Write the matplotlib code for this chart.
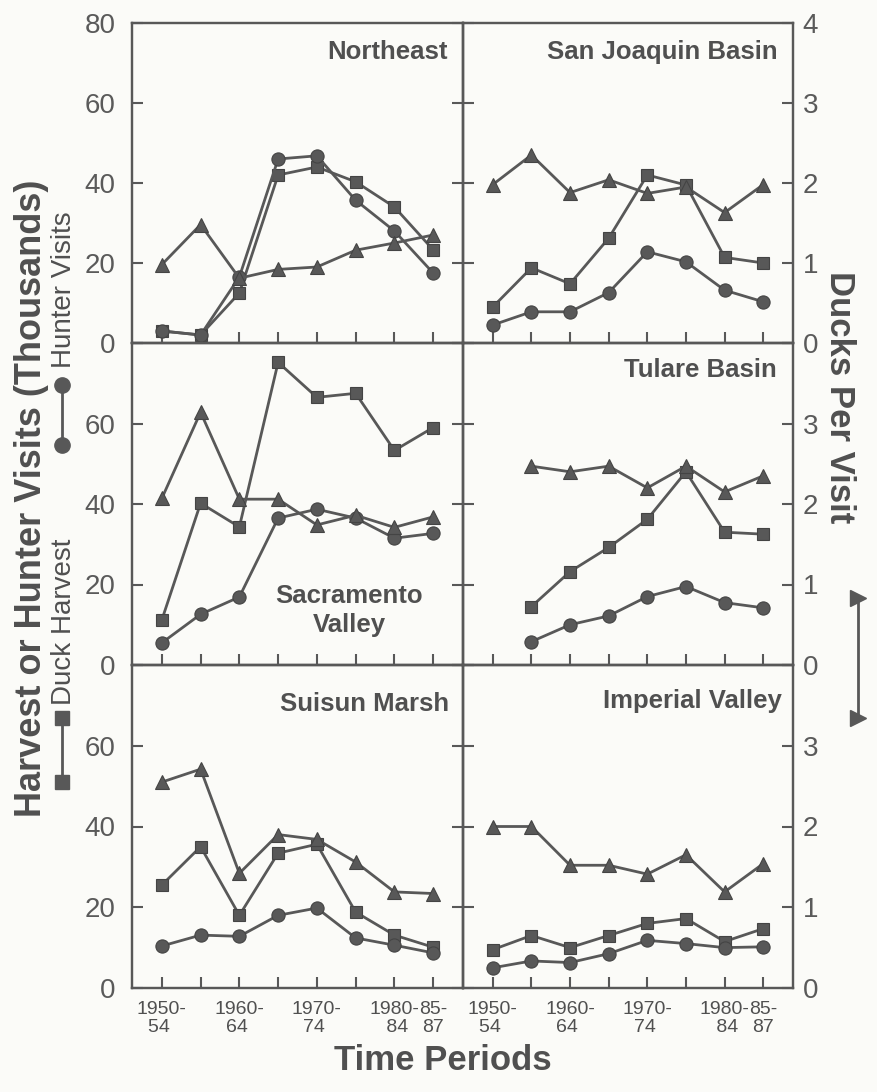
import numpy as np
import matplotlib
matplotlib.use("Agg")
import matplotlib.pyplot as plt
from matplotlib.lines import Line2D

plt.rcParams["font.family"] = ["Liberation Sans", "DejaVu Sans"]

INK = "#585858"
TXT = "#505050"
BG = "#fbfbf8"

periods = ["1950-54", "1955-59", "1960-64", "1965-69",
           "1970-74", "1975-79", "1980-84", "1985-87"]
tick_pos = [0, 2, 4, 6, 7]
tick_lbl = ["1950-\n54 ", "1960-\n64 ", "1970-\n74 ", "1980-\n 84", "85-\n87"]

# harvest & hunter visits in thousands, ducks per visit
ne_harvest = [3, 2, 12.5, 42, 44, 40.3, 34, 23.3]
ne_visits = [3, 2, 16.5, 46, 46.8, 35.7, 28, 17.5]
ne_dpv = [0.98, 1.48, 0.81, 0.92, 0.95, 1.16, 1.25, 1.35]

sj_harvest = [9, 18.8, 14.8, 26.2, 42, 39.5, 21.4, 20]
sj_visits = [4.5, 7.8, 7.8, 12.6, 22.8, 20.3, 13.2, 10.3]
sj_dpv = [1.98, 2.35, 1.88, 2.04, 1.87, 1.95, 1.63, 1.98]

sv_harvest = [11.2, 40.2, 34.3, 75.2, 66.5, 67.5, 53.3, 59]
sv_visits = [5.5, 12.6, 16.9, 36.5, 38.7, 36.5, 31.5, 32.7]
sv_dpv = [2.07, 3.14, 2.06, 2.06, 1.74, 1.86, 1.71, 1.84]

tb_harvest = [np.nan, 14.5, 23.2, 29.2, 36.2, 48, 33, 32.5]
tb_visits = [np.nan, 5.8, 10, 12.2, 17, 19.5, 15.5, 14.2]
tb_dpv = [np.nan, 2.47, 2.4, 2.47, 2.2, 2.47, 2.15, 2.35]

sm_harvest = [25.5, 35, 18, 33.4, 35.6, 18.8, 13.1, 10.1]
sm_visits = [10.4, 13.1, 12.8, 18, 19.8, 12.4, 10.6, 8.7]
sm_dpv = [2.55, 2.71, 1.42, 1.9, 1.84, 1.56, 1.19, 1.17]

iv_harvest = [9.5, 13, 10, 13, 16, 17.2, 11.5, 14.7]
iv_visits = [5, 6.7, 6.3, 8.5, 11.8, 11, 10, 10.2]
iv_dpv = [2.0, 2.0, 1.52, 1.52, 1.41, 1.65, 1.19, 1.54]

panels = [
    ("Northeast", ne_harvest, ne_visits, ne_dpv, 0, 0, (0.955, 0.91, "right")),
    ("San Joaquin Basin", sj_harvest, sj_visits, sj_dpv, 0, 1, (0.952, 0.91, "right")),
    ("Sacramento\nValley", sv_harvest, sv_visits, sv_dpv, 1, 0, (0.656, 0.17, "center")),
    ("Tulare Basin", tb_harvest, tb_visits, tb_dpv, 1, 1, (0.952, 0.915, "right")),
    ("Suisun Marsh", sm_harvest, sm_visits, sm_dpv, 2, 0, (0.958, 0.88, "right")),
    ("Imperial Valley", iv_harvest, iv_visits, iv_dpv, 2, 1, (0.967, 0.89, "right")),
]

W, H = 878, 1092
fig = plt.figure(figsize=(W / 100, H / 100), dpi=100, facecolor=BG)

col_x = [132, 463, 793]
row_y = [23, 343, 665, 988]
x = np.arange(len(periods))

line_kw = dict(color=INK, lw=2.0, markerfacecolor=INK, markeredgecolor="#444444",
               markeredgewidth=0.8, zorder=3)

for name, harv, vis, dpv, r, c, (tx, ty, ha) in panels:
    left = col_x[c] / W
    width = (col_x[c + 1] - col_x[c]) / W
    bottom = 1 - row_y[r + 1] / H
    height = (row_y[r + 1] - row_y[r]) / H
    ax = fig.add_axes([left, bottom, width, height])
    ax.set_facecolor("none")
    ax2 = ax.twinx()

    ax.plot(x, harv, marker="s", ms=8, **line_kw)
    ax.plot(x, vis, marker="o", ms=9.5, **line_kw)
    ax2.plot(x, dpv, marker="^", ms=10, **line_kw)

    ax.set_xlim(-0.77, 7.77)
    ax.set_ylim(0, 80)
    ax2.set_ylim(0, 4)

    for a in (ax, ax2):
        for s in a.spines.values():
            s.set_color(INK)
            s.set_linewidth(1.6)

    ax.set_xticks(x, minor=True)
    if r == 2:
        ax.set_xticks(tick_pos)
        ax.set_xticklabels(tick_lbl, fontsize=14, color=TXT, linespacing=1.15)
    else:
        ax.set_xticks([])
    ax.tick_params(axis="x", which="both", direction="in", length=8, width=1.5,
                   color=INK, pad=9)

    ax.set_yticks([0, 20, 40, 60, 80])
    ax2.set_yticks([0, 1, 2, 3, 4])
    if c == 0:
        if r == 0:
            ax.set_yticklabels(["0", "20", "40", "60", "80"])
        else:
            ax.set_yticklabels(["0", "20", "40", "60", ""])
        ax2.set_yticklabels([])
    else:
        ax.set_yticklabels([])
        if r == 0:
            ax2.set_yticklabels(["0", "1", "2", "3", "4"])
        else:
            ax2.set_yticklabels(["0", "1", "2", "3", ""])
    ax.tick_params(axis="y", direction="in", length=8, width=1.5, color=INK,
                   labelsize=20, labelcolor="#5a5a5a", pad=12)
    ax2.tick_params(axis="y", direction="in", length=8, width=1.5, color=INK,
                    labelsize=20, labelcolor="#5a5a5a", pad=7)

    ax.text(tx, ty, name, transform=ax.transAxes, ha=ha, va="center",
            fontsize=18.5, fontweight="bold", color=TXT, linespacing=1.25)

# axis titles
fig.text(32 / W, 1 - 498 / H, "Harvest or Hunter Visits (Thousands)", rotation=90,
         ha="center", va="center", fontsize=26, fontweight="bold", color=TXT)
fig.text(840 / W, 1 - 397 / H, "Ducks Per Visit", rotation=-90,
         ha="center", va="center", fontsize=25, fontweight="bold", color=TXT)
fig.text(443 / W, 1 - 1060 / H, "Time Periods",
         ha="center", va="center", fontsize=25, fontweight="bold", color=TXT)

# inline keys
fig.text(64 / W, 1 - 290 / H, "Hunter Visits", rotation=90, ha="center",
         va="center", fontsize=20, color=TXT)
fig.text(64 / W, 1 - 622 / H, "Duck Harvest", rotation=90, ha="center",
         va="center", fontsize=20, color=TXT)
key_kw = dict(color=INK, lw=2.0, markerfacecolor=INK, markeredgecolor=INK,
              transform=fig.transFigure)
fig.add_artist(Line2D([62 / W, 62 / W], [1 - 385 / H, 1 - 445 / H],
                      marker="o", ms=11, **key_kw))
fig.add_artist(Line2D([62 / W, 62 / W], [1 - 718 / H, 1 - 782 / H],
                      marker="s", ms=10, **key_kw))
fig.add_artist(Line2D([858 / W, 858 / W], [1 - 598 / H, 1 - 718 / H],
                      marker=">", ms=11, **key_kw))

fig.savefig("out.png", dpi=100, facecolor=BG)
